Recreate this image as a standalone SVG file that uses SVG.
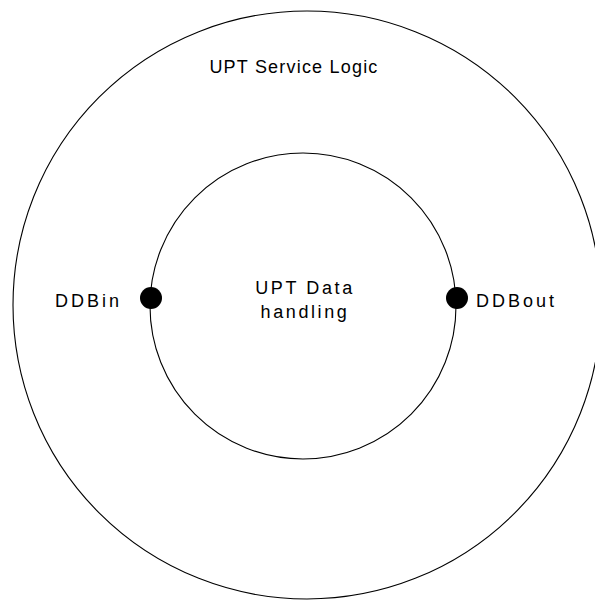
<svg xmlns="http://www.w3.org/2000/svg" width="595" height="601" viewBox="0 0 595 601">
  <style>
    .ring { fill: none; stroke: #000; stroke-width: 1.1; }
    .port { fill: #000; }
    .lbl { font-family: "Liberation Sans", Arial, sans-serif; font-size: 18px; fill: #000; letter-spacing: 1.2px; }
    .inner { letter-spacing: 2.6px; }
    .portlbl { letter-spacing: 3px; }
  </style>
  <rect width="595" height="601" fill="#fff"/>
  <g id="service-logic">
    <circle class="ring" cx="307" cy="305" r="294"/>
    <text class="lbl" x="294" y="73" text-anchor="middle">UPT Service Logic</text>
  </g>
  <g id="data-handling">
    <circle class="ring" cx="303" cy="306" r="153"/>
    <text class="lbl inner" x="305" y="294" text-anchor="middle">UPT Data</text>
    <text class="lbl inner" x="305" y="318" text-anchor="middle">handling</text>
  </g>
  <g id="ddbin">
    <circle class="port" cx="151" cy="298" r="11"/>
    <text class="lbl portlbl" x="55" y="307">DDBin</text>
  </g>
  <g id="ddbout">
    <circle class="port" cx="457" cy="298" r="11"/>
    <text class="lbl portlbl" x="476" y="307">DDBout</text>
  </g>
</svg>
